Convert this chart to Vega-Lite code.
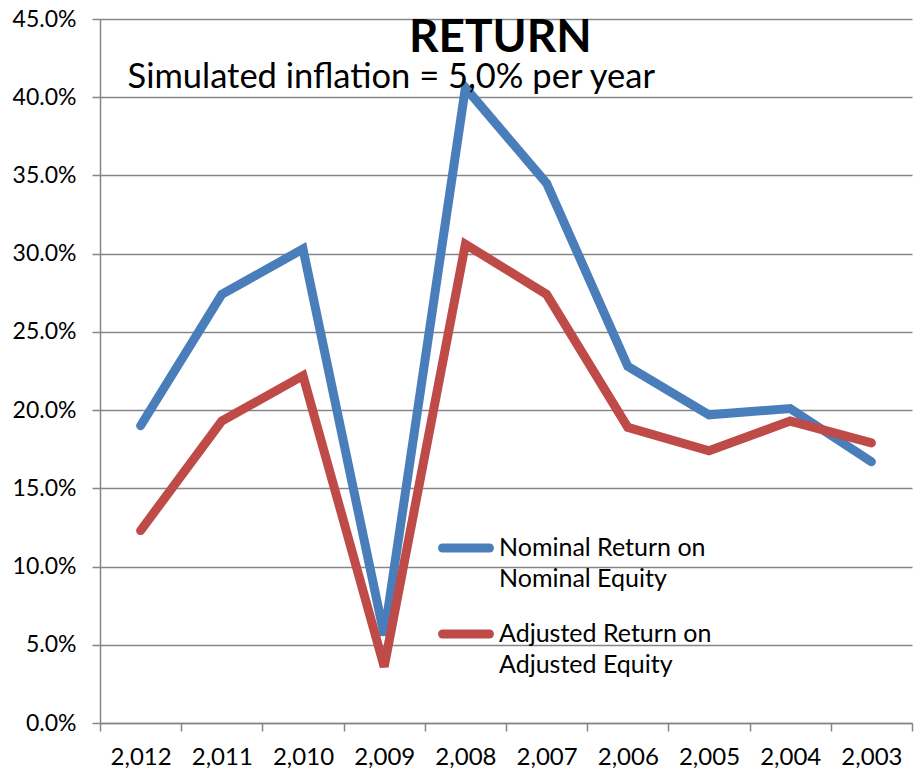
{
  "$schema": "https://vega.github.io/schema/vega-lite/v6.json",
  "width": 812,
  "height": 704,
  "autosize": {"type": "none"},
  "padding": {"left": 100, "top": 19, "right": 10, "bottom": 51},
  "background": "white",
  "config": {
    "view": {"stroke": null},
    "font": "Lato"
  },
  "datasets": {
    "returns": [
      {"year": "2,012", "series": "Nominal", "value": 0.190},
      {"year": "2,011", "series": "Nominal", "value": 0.274},
      {"year": "2,010", "series": "Nominal", "value": 0.303},
      {"year": "2,009", "series": "Nominal", "value": 0.056},
      {"year": "2,008", "series": "Nominal", "value": 0.406},
      {"year": "2,007", "series": "Nominal", "value": 0.345},
      {"year": "2,006", "series": "Nominal", "value": 0.228},
      {"year": "2,005", "series": "Nominal", "value": 0.197},
      {"year": "2,004", "series": "Nominal", "value": 0.201},
      {"year": "2,003", "series": "Nominal", "value": 0.167},
      {"year": "2,012", "series": "Adjusted", "value": 0.123},
      {"year": "2,011", "series": "Adjusted", "value": 0.193},
      {"year": "2,010", "series": "Adjusted", "value": 0.222},
      {"year": "2,009", "series": "Adjusted", "value": 0.036},
      {"year": "2,008", "series": "Adjusted", "value": 0.306},
      {"year": "2,007", "series": "Adjusted", "value": 0.274},
      {"year": "2,006", "series": "Adjusted", "value": 0.189},
      {"year": "2,005", "series": "Adjusted", "value": 0.174},
      {"year": "2,004", "series": "Adjusted", "value": 0.193},
      {"year": "2,003", "series": "Adjusted", "value": 0.179}
    ],
    "titles": [
      {"label": "RETURN"}
    ],
    "subtitles": [
      {"label": "Simulated inflation = 5,0% per year"}
    ]
  },
  "layer": [
    {
      "data": {"name": "returns"},
      "mark": {"type": "line", "strokeWidth": 9, "strokeCap": "round", "strokeJoin": "miter"},
      "encoding": {
        "x": {
          "field": "year",
          "type": "nominal",
          "sort": null,
          "scale": {"type": "band", "paddingInner": 0, "paddingOuter": 0},
          "axis": {
            "title": null,
            "labelAngle": 0,
            "labelFont": "Lato",
            "labelFontSize": 24,
            "labelColor": "black",
            "labelPadding": 14,
            "tickSize": 8,
            "tickColor": "#868686",
            "tickWidth": 1.5,
            "tickBand": "extent",
            "domainColor": "#868686",
            "domainWidth": 1.5,
            "grid": false
          }
        },
        "y": {
          "field": "value",
          "type": "quantitative",
          "scale": {"domain": [0, 0.45], "nice": false},
          "axis": {
            "title": null,
            "format": ".1%",
            "values": [0, 0.05, 0.1, 0.15, 0.2, 0.25, 0.3, 0.35, 0.4, 0.45],
            "labelFont": "Lato",
            "labelFontSize": 23,
            "labelColor": "black",
            "labelPadding": 16,
            "tickSize": 8,
            "tickColor": "#868686",
            "tickWidth": 1.5,
            "domainColor": "#868686",
            "domainWidth": 1.5,
            "grid": true,
            "gridColor": "#868686",
            "gridWidth": 1.5
          }
        },
        "color": {
          "field": "series",
          "type": "nominal",
          "sort": ["Nominal", "Adjusted"],
          "scale": {"domain": ["Nominal", "Adjusted"], "range": ["#4A7EBB", "#BE4B48"]},
          "legend": {
            "title": null,
            "orient": "none",
            "legendX": 338,
            "legendY": 501,
            "symbolType": "stroke",
            "symbolSize": 2200,
            "symbolStrokeWidth": 9,
            "labelFont": "Lato",
            "labelFontSize": 25,
            "labelColor": "black",
            "labelOffset": 5,
            "labelLimit": 400,
            "rowPadding": 14,
            "labelExpr": "datum.label == 'Nominal' ? ['Nominal Return on', 'Nominal Equity'] : ['Adjusted Return on', 'Adjusted Equity']",
            "encode": {
              "labels": {"update": {"lineHeight": {"value": 31}}},
              "symbols": {"update": {"strokeCap": {"value": "round"}}}
            }
          }
        }
      }
    },
    {
      "data": {"name": "titles"},
      "mark": {"type": "text", "font": "Lato", "fontSize": 46, "fontWeight": "bold", "align": "center", "baseline": "alphabetic", "color": "black", "dx": 35},
      "encoding": {
        "x": {"datum": "2,008"},
        "y": {"datum": 0.429},
        "text": {"field": "label"}
      }
    },
    {
      "data": {"name": "subtitles"},
      "mark": {"type": "text", "font": "Lato", "fontSize": 34.5, "align": "left", "baseline": "alphabetic", "color": "black", "dx": -13},
      "encoding": {
        "x": {"datum": "2,012"},
        "y": {"datum": 0.406},
        "text": {"field": "label"}
      }
    }
  ]
}
